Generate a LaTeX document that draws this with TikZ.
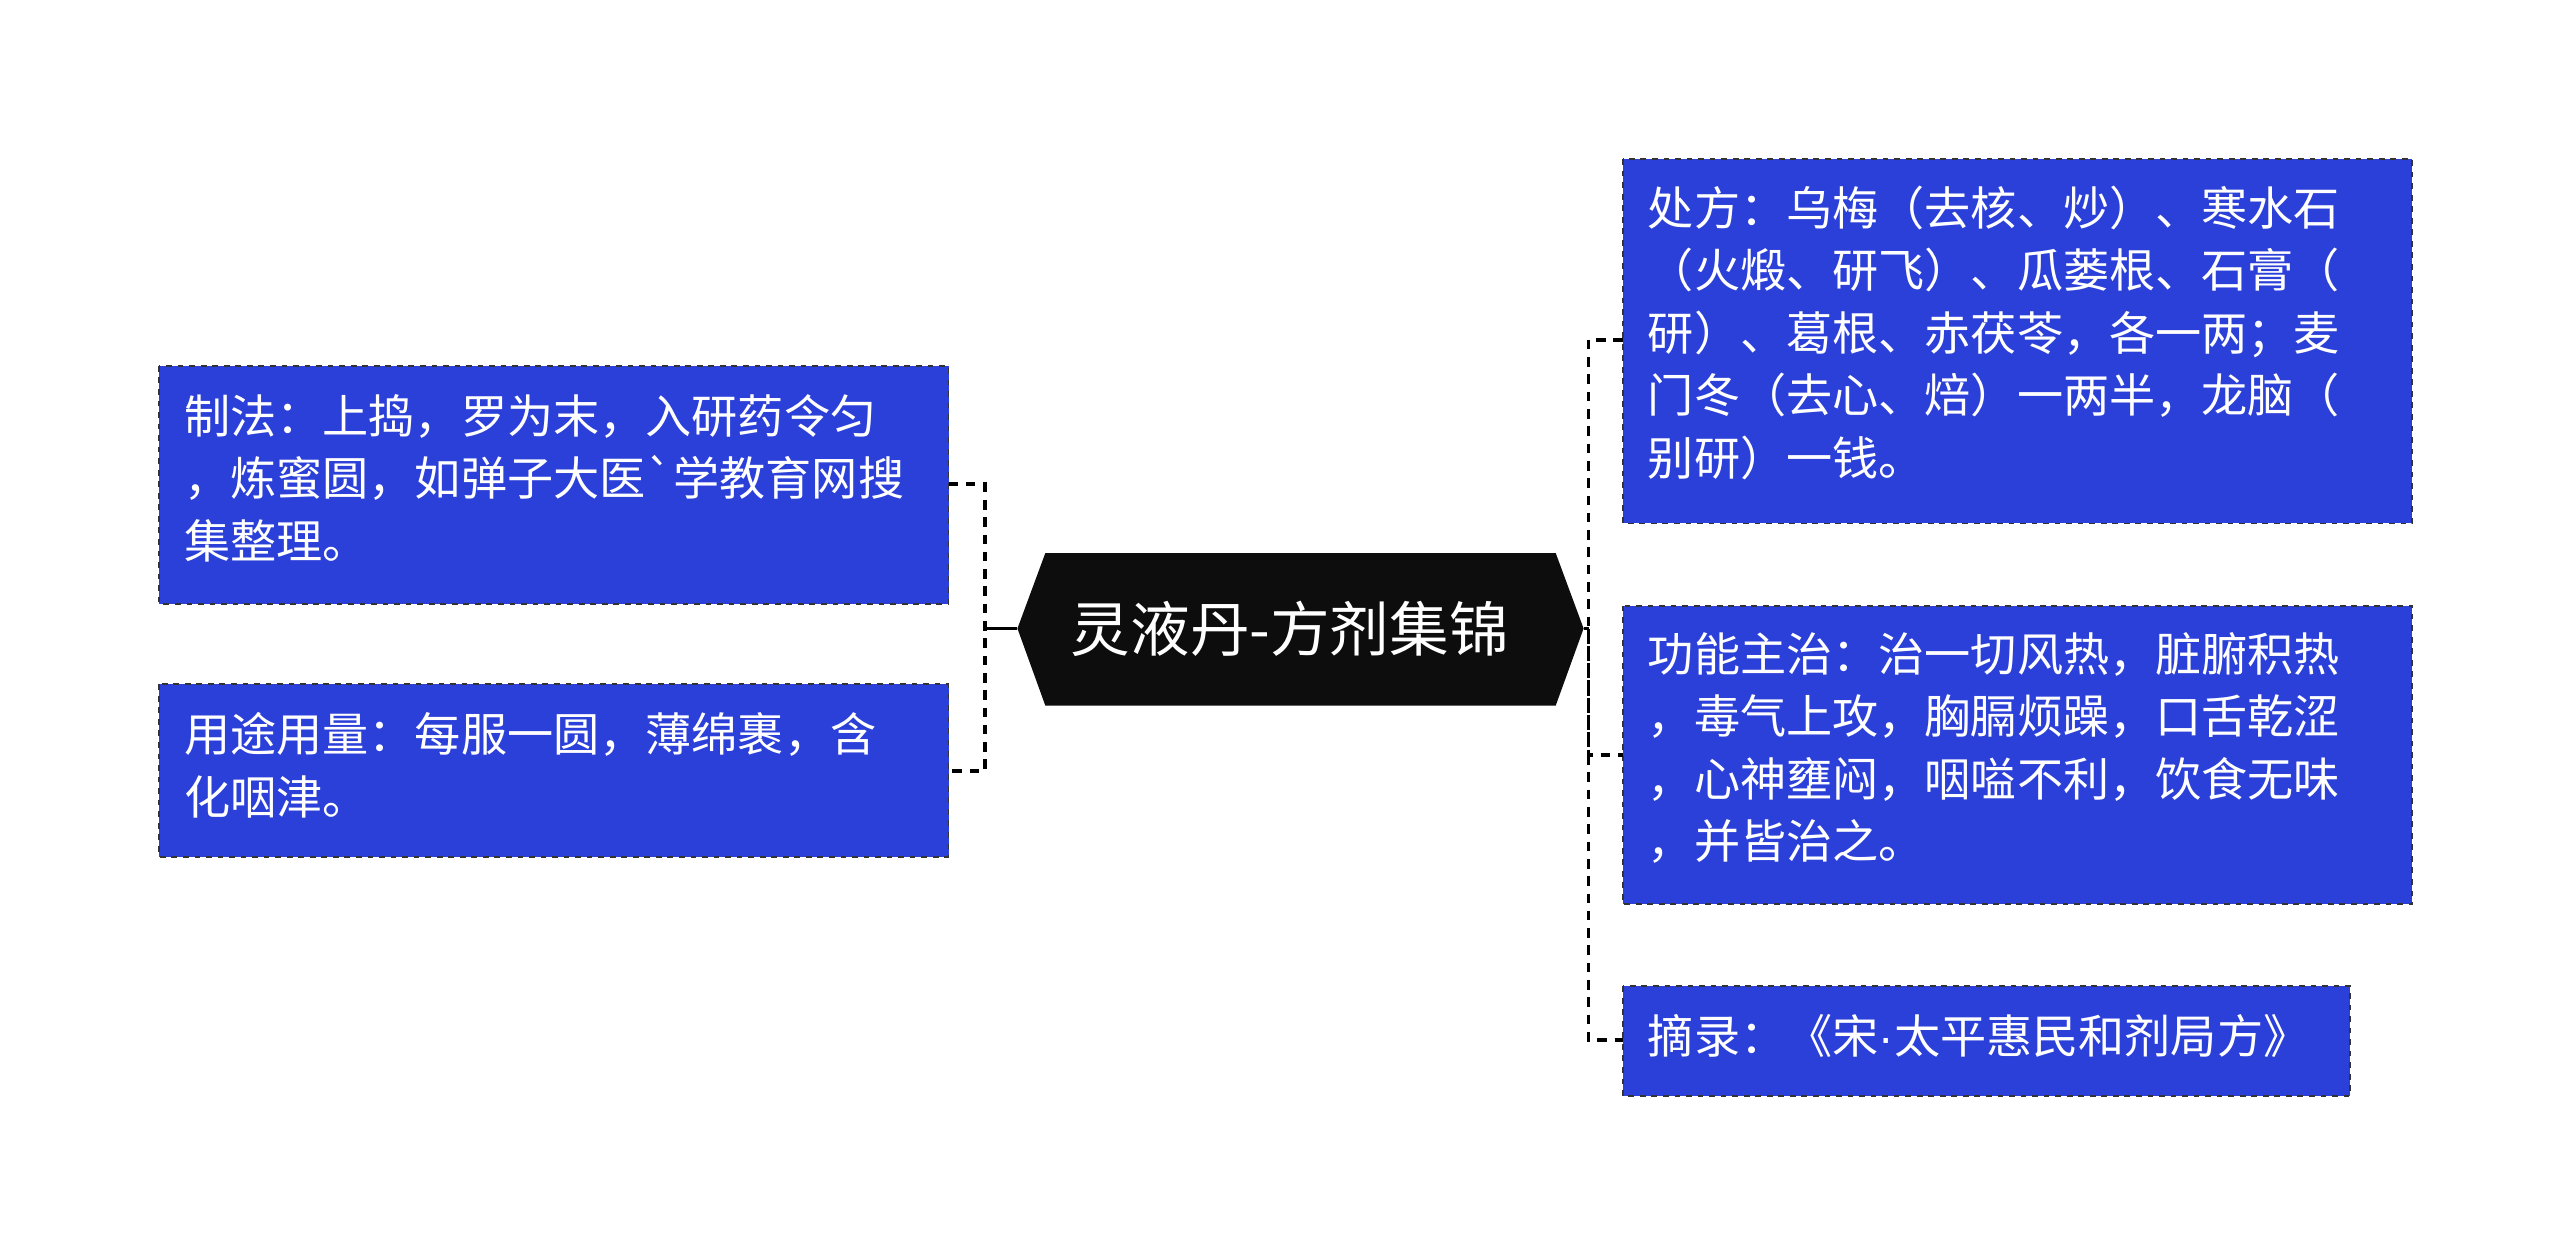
\documentclass[tikz,border=0pt]{standalone}
\usepackage{fontspec}
\setmainfont{Noto Sans CJK SC}
\newfontfamily\latinfont{Liberation Sans}
\usetikzlibrary{positioning, calc}
\definecolor{boxblue}{HTML}{2B3FD9}
\definecolor{edgegray}{HTML}{333333}
\tikzset{
  leafbox/.style={fill=boxblue, draw=edgegray, dashed, line width=1pt},
  leaf/.style={text=white, align=left, font=\fontsize{24pt}{32.5pt}\selectfont,
    inner sep=0pt, anchor=north west},
  link/.style={draw=black, line width=2pt, dash pattern=on 5pt off 4pt}
}
\begin{document}
\begin{tikzpicture}[x=0.03cm, y=-0.03cm]
  \useasboundingbox (0,0) rectangle (1560,763);
  % root
  \fill[black!95] (620,383) -- (637,337) -- (948,337) -- (965,383) -- (948,430) -- (637,430) -- cycle;
  \node[text=white, font=\fontsize{31pt}{36pt}\selectfont] (root) at (786,383) {灵液丹-方剂集锦};
  \coordinate (rootW) at (620,383);
  \coordinate (rootE) at (965,383);
  % left
  \draw[leafbox] (97,223) rectangle (578,368);
  \node[leaf] (zhifa) at (112,240) {制法：上捣，罗为末，入研药令匀\\，炼蜜圆，如弹子大医\textasciigrave 学教育网搜\\集整理。};
  \draw[leafbox] (97,417) rectangle (578,522);
  \node[leaf] (yongtu) at (112,434) {用途用量：每服一圆，薄绵裹，含\\化咽津。};
  % right
  \draw[leafbox] (989,97) rectangle (1470,319);
  \node[leaf] (chufang) at (1004,113) {处方：乌梅（去核、炒）、寒水石\\（火煅、研飞）、瓜蒌根、石膏（\\研）、葛根、赤茯苓，各一两；麦\\门冬（去心、焙）一两半，龙脑（\\别研）一钱。};
  \draw[leafbox] (989,369) rectangle (1470,551);
  \node[leaf] (gongneng) at (1004,385) {功能主治：治一切风热，脏腑积热\\，毒气上攻，胸膈烦躁，口舌乾涩\\，心神壅闷，咽嗌不利，饮食无味\\，并皆治之。};
  \draw[leafbox] (989,601) rectangle (1432,668);
  \node[leaf] (zhailu) at (1004,618) {摘录：《宋{\latinfont ·}太平惠民和剂局方》};
  % connectors
  \coordinate (lj) at (600,383);
  \coordinate (rj) at (968,383);
  \draw[line width=2pt] (rootW) -- (lj);
  \draw[line width=2pt] (rootE) -- (rj);
  \draw[link] (578,295) -| (lj) |- (578,470);
  \draw[link] (989,207) -| (rj) |- (989,634);
  \draw[link] (rj) |- (989,460);
\end{tikzpicture}
\end{document}
